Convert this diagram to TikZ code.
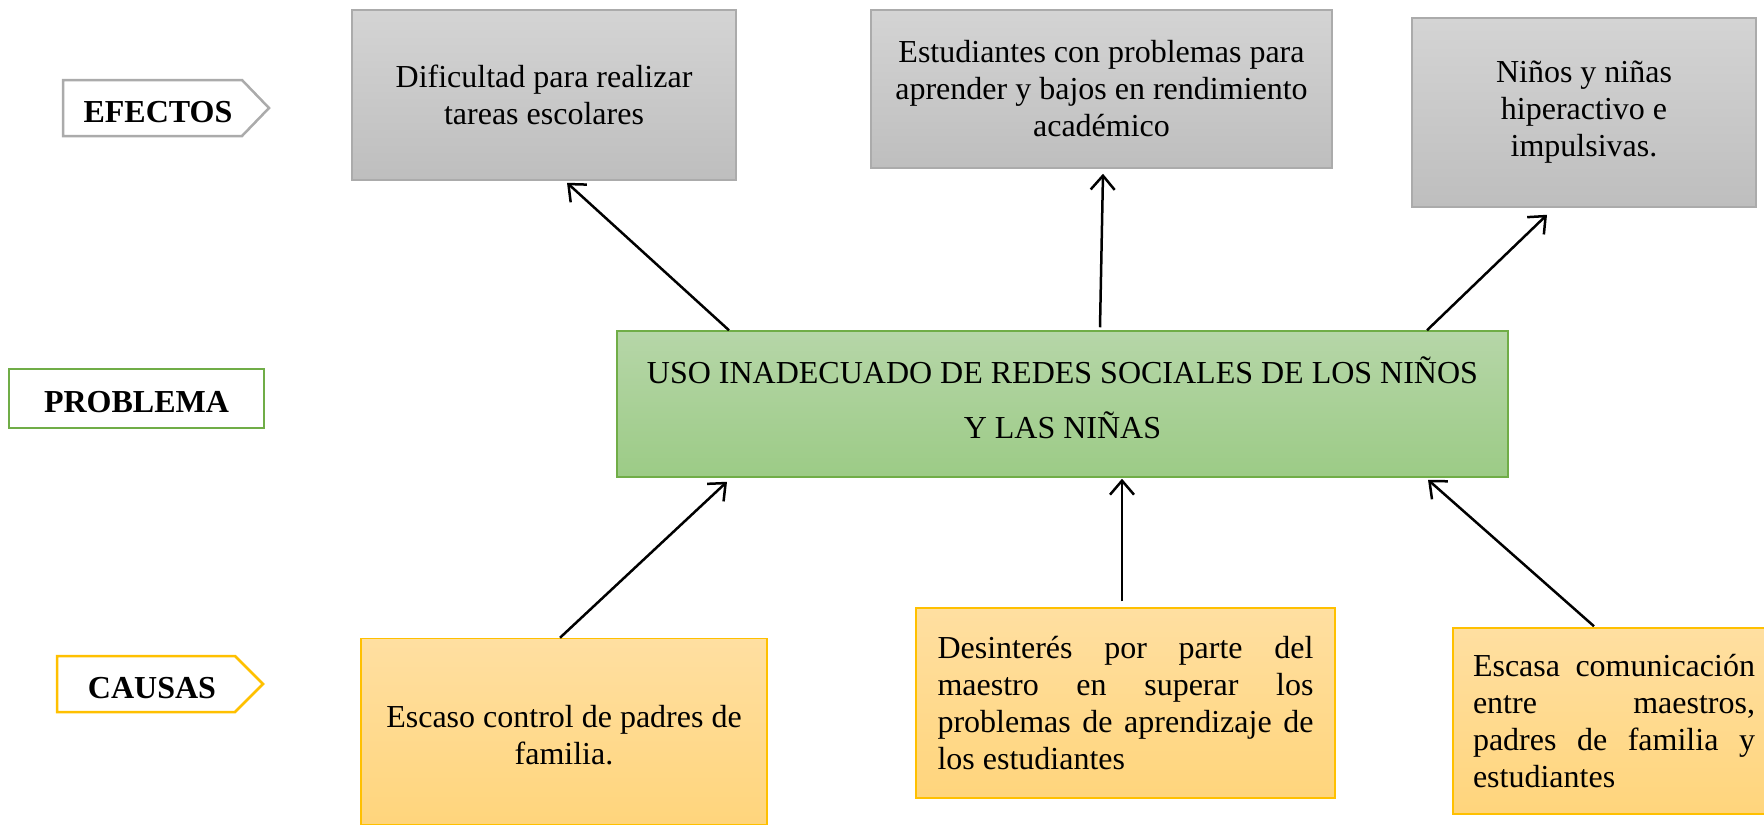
\documentclass[tikz,border=0pt]{standalone}
\usepackage{fontspec}
\setmainfont{Liberation Serif}
\usetikzlibrary{arrows.meta,calc}
\definecolor{grayB}{HTML}{ABABAB}
\definecolor{grayT}{HTML}{D4D4D4}
\definecolor{grayD}{HTML}{BEBEBE}
\definecolor{greenB}{HTML}{70AD47}
\definecolor{greenT}{HTML}{B6D6A8}
\definecolor{greenD}{HTML}{9CCB86}
\definecolor{orangeB}{HTML}{FFC000}
\definecolor{orangeT}{HTML}{FFDFA1}
\definecolor{orangeD}{HTML}{FFD57C}
\tikzset{
  txt/.style={font=\fontsize{32}{37}\selectfont, inner sep=0pt},
  graybox/.style={txt, draw=grayB, line width=1.5pt, top color=grayT, bottom color=grayD, align=center},
  greenbox/.style={txt, draw=greenB, line width=1.5pt, top color=greenT, bottom color=greenD},
  greentext/.style={inner sep=0pt, align=center, font=\fontsize{32}{55}\selectfont},
  orangebox/.style={txt, draw=orangeB, line width=1.5pt, top color=orangeT, bottom color=orangeD},
  labtxt/.style={font=\fontsize{32}{37}\selectfont\bfseries, inner sep=0pt},
  labline/.style={line width=2.5pt},
  arr/.style={-{Straight Barb[length=14pt,width=24pt]}, line width=2.5pt}
}
\begin{document}
\begin{tikzpicture}[x=1pt,y=-1pt]
\useasboundingbox (0,0) rectangle (1764,825);

% labels
\node[labtxt] (efectos) at (158,112) {EFECTOS};
\draw[labline,grayB] ([shift={(-95,-32)}]efectos.center) -- ([shift={(84,-32)}]efectos.center) -- ([shift={(111,-4)}]efectos.center) -- ([shift={(84,24)}]efectos.center) -- ([shift={(-95,24)}]efectos.center) -- cycle;
\node[labtxt, draw=greenB, line width=2.5pt, minimum width=255pt, minimum height=59pt, label={[labtxt, yshift=-3.5pt]center:PROBLEMA}] (problema) at (136.5,398.5) {};
\node[labtxt] (causas) at (152,688) {CAUSAS};
\draw[labline,orangeB] ([shift={(-95,-32)}]causas.center) -- ([shift={(83,-32)}]causas.center) -- ([shift={(111,-4)}]causas.center) -- ([shift={(83,24)}]causas.center) -- ([shift={(-95,24)}]causas.center) -- cycle;

% effects
\node[graybox, minimum width=384pt, minimum height=170pt] (e1) at (544,95) {Dificultad para realizar\\tareas escolares};
\node[graybox, minimum width=461pt, minimum height=158pt] (e2) at (1101.5,89) {Estudiantes con problemas para\\aprender y bajos en rendimiento\\académico};
\node[graybox, minimum width=344pt, minimum height=189pt] (e3) at (1584,112.5) {Niños y niñas\\hiperactivo e\\impulsivas.};

% problem
\node[greenbox, minimum width=891pt, minimum height=146pt, label={[greentext, yshift=6pt]center:{USO INADECUADO DE REDES SOCIALES DE LOS NIÑOS\\Y LAS NIÑAS}}] (green) at (1062.5,404) {};

% causes
\node[orangebox, minimum width=406pt, minimum height=186pt, label={[txt, align=center, yshift=-4pt]center:{Escaso control de padres de\\familia.}}] (c1) at (564,731.5) {};
\node[orangebox, text width=376pt, align=justify, minimum height=190pt, inner xsep=21.5pt] (c2) at (1125.5,703) {Desinterés por parte del\linebreak maestro en superar los\linebreak problemas de aprendizaje de\linebreak los estudiantes};
\node[orangebox, text width=282pt, align=justify, minimum height=186pt, inner xsep=20pt] (c3) at (1614,721) {Escasa comunicación\linebreak entre maestros,\linebreak padres de familia y\linebreak estudiantes};

% arrows
\draw[arr] ([xshift=-333.5pt]green.north) -- ([xshift=23pt,yshift=-2pt]e1.south);
\draw[arr] ([xshift=37.5pt,yshift=3pt]green.north) -- ([xshift=1.5pt,yshift=-5pt]e2.south);
\draw[arr] ([xshift=364.5pt]green.north) -- ([xshift=-37pt,yshift=-7pt]e3.south);
\draw[arr] ([xshift=-4pt]c1.north) -- ([xshift=-335.5pt,yshift=-4pt]green.south);
\draw[arr] ([xshift=-3.5pt,yshift=6pt]c2.north) -- ([xshift=59.5pt,yshift=-1pt]green.south);
\draw[arr] ([xshift=-20pt,yshift=1pt]c3.north) -- ([xshift=365.5pt,yshift=-2pt]green.south);
\end{tikzpicture}
\end{document}
